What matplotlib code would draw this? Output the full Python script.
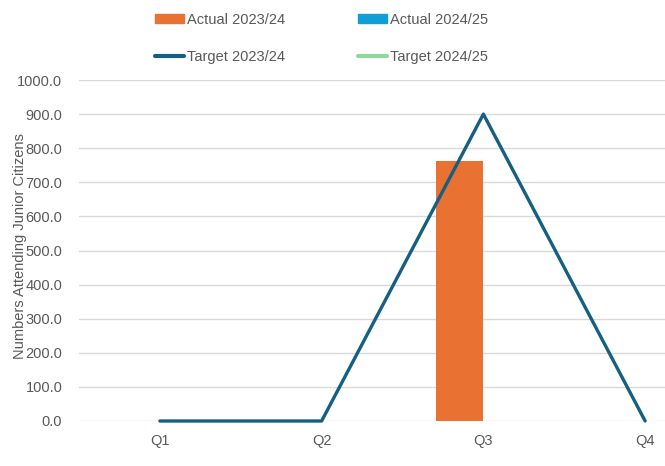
import matplotlib
matplotlib.use("Agg")
import matplotlib.pyplot as plt
from matplotlib.patches import Patch
from matplotlib.lines import Line2D

quarters = ["Q1", "Q2", "Q3", "Q4"]
actual_2324 = [0, 0, 762, 0]
actual_2425 = [0, 0, 0, 0]
target_2324 = [0, 0, 900, 0]
y_ticks = [0, 100, 200, 300, 400, 500, 600, 700, 800, 900, 1000]

plt.rcParams["font.family"] = ["Liberation Sans", "DejaVu Sans"]

C_ORANGE = "#E97132"
C_BLUE = "#0F9ED5"
C_NAVY = "#156082"
C_GREEN = "#8ED99B"
C_TEXT = "#595959"
C_GRID = "#D9D9D9"

fig = plt.figure(figsize=(6.65, 4.66), dpi=100)
ax = fig.add_axes([79 / 665, 45 / 466, 647 / 665, 341 / 466])

x = list(range(len(quarters)))
bw = 0.29
ax.bar([i - bw / 2 for i in x], actual_2324, width=bw, color=C_ORANGE, zorder=2)
ax.bar([i + bw / 2 for i in x], actual_2425, width=bw, color=C_BLUE, zorder=2)
ax.plot(x, target_2324, color=C_NAVY, lw=2.4, solid_capstyle="round",
        solid_joinstyle="round", zorder=3, clip_on=False)

ax.set_xlim(-0.5, 3.5)
ax.set_ylim(0, 1000)
ax.set_yticks(y_ticks)
ax.set_yticklabels([f"{v:.1f}" for v in y_ticks])
ax.set_xticks(x)
ax.set_xticklabels(quarters)
ax.tick_params(axis="both", length=0, labelsize=10.5, labelcolor=C_TEXT)
ax.tick_params(axis="y", pad=12)
ax.tick_params(axis="x", pad=9)
ax.grid(axis="y", color=C_GRID, lw=1, zorder=0)
for s in ax.spines.values():
    s.set_visible(False)
ax.set_axisbelow(True)

fig.text(20 / 665, 1 - 246 / 466, "Numbers Attending Junior Citizens", rotation=90,
         ha="center", va="center", fontsize=10.5, color=C_TEXT)

handles = [
    Patch(color=C_ORANGE),
    Line2D([0], [0], color=C_NAVY, lw=3, solid_capstyle="round"),
    Patch(color=C_BLUE),
    Line2D([0], [0], color=C_GREEN, lw=3, solid_capstyle="round"),
]
labels = ["Actual 2023/24", "Target 2023/24", "Actual 2024/25", "Target 2024/25"]
leg = fig.legend(handles, labels, ncol=2, loc="center left",
                 bbox_to_anchor=(155 / 665, 1 - 38.5 / 466), frameon=False,
                 borderaxespad=0, borderpad=0,
                 prop={"size": 10.5},
                 handlelength=2.0, handleheight=0.65, handletextpad=0.2,
                 columnspacing=5.0, labelspacing=1.62)
for t in leg.get_texts():
    t.set_color(C_TEXT)

fig.savefig("out.png", dpi=100)
